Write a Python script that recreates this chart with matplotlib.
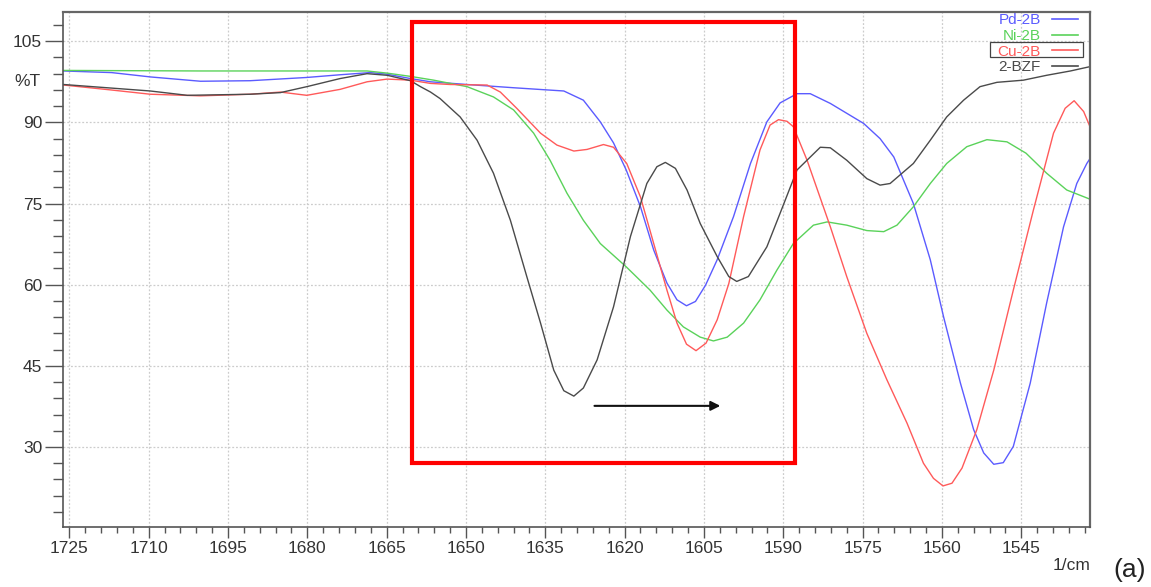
import matplotlib
matplotlib.use("Agg")
import matplotlib.pyplot as plt
from matplotlib.patches import Rectangle
from matplotlib.ticker import MultipleLocator

plt.rcParams['font.family'] = ['Liberation Sans', 'DejaVu Sans']

# ---------------- data ----------------
pd_wn = [1726.1, 1717.0, 1709.7, 1700.2, 1690.8, 1680.1, 1673.8, 1668.1, 1664.9, 1660.5,
         1656.7, 1649.8, 1641.0, 1634.7, 1631.5, 1627.8, 1624.6, 1622.1, 1619.7, 1617.0,
         1614.5, 1612.0, 1610.1, 1608.3, 1606.6, 1604.7, 1602.5, 1599.4, 1596.2, 1593.1,
         1590.6, 1587.4, 1584.9, 1581.1, 1574.8, 1571.7, 1569.1, 1565.4, 1562.2, 1559.7,
         1556.5, 1554.0, 1552.1, 1550.2, 1548.4, 1546.5, 1543.3, 1540.2, 1537.0, 1534.5,
         1532.6, 1532.0]
pd_t = [99.5, 99.2, 98.4, 97.6, 97.7, 98.3, 98.8, 99.2, 98.9, 98.1,
        97.5, 97.0, 96.4, 96.0, 95.8, 94.1, 90.1, 86.2, 81.2, 74.4,
        66.4, 60.3, 57.2, 56.1, 56.9, 59.9, 64.6, 72.6, 82.4, 90.1,
        93.6, 95.3, 95.3, 93.5, 89.8, 87.0, 83.6, 75.0, 64.6, 54.1,
        41.8, 33.2, 28.9, 26.8, 27.1, 30.1, 41.8, 56.6, 70.7, 78.7,
        82.4, 83.3]

ni_wn = [1726.1, 1700.0, 1680.0, 1668.7, 1664.9, 1660.5, 1656.1, 1649.8, 1644.8, 1641.0,
         1637.2, 1634.1, 1630.9, 1627.8, 1624.6, 1619.7, 1615.2, 1612.0, 1608.9, 1605.7,
         1603.2, 1600.6, 1597.5, 1594.4, 1591.2, 1588.1, 1584.3, 1581.7, 1578.0, 1574.2,
         1571.0, 1568.5, 1565.4, 1562.2, 1559.1, 1555.3, 1551.5, 1547.7, 1544.1, 1540.2,
         1536.4, 1532.0]
ni_t = [99.6, 99.5, 99.5, 99.5, 99.1, 98.5, 97.8, 96.6, 94.7, 92.3,
        88.0, 83.0, 76.9, 71.9, 67.6, 63.3, 59.0, 55.3, 52.2, 50.3,
        49.6, 50.3, 52.9, 57.2, 62.7, 67.6, 71.0, 71.6, 71.0, 70.0,
        69.8, 71.0, 74.4, 78.7, 82.4, 85.5, 86.8, 86.4, 84.3, 80.6,
        77.5, 75.8]

cu_wn = [1726.1, 1717.2, 1709.7, 1700.2, 1690.8, 1685.1, 1680.1, 1673.8, 1668.7, 1664.9,
         1660.5, 1656.7, 1653.0, 1646.0, 1643.5, 1640.4, 1635.9, 1632.8, 1629.6, 1627.1,
         1624.0, 1622.1, 1619.6, 1617.0, 1614.5, 1612.0, 1610.1, 1608.3, 1606.5, 1604.6,
         1602.5, 1600.3, 1597.5, 1594.4, 1592.5, 1590.9, 1589.3, 1588.1, 1585.5, 1581.1,
         1578.0, 1574.2, 1570.4, 1566.6, 1563.5, 1561.6, 1559.8, 1558.1, 1556.2, 1553.4,
         1550.2, 1546.5, 1542.7, 1538.9, 1536.7, 1535.0, 1533.2, 1532.0]
cu_t = [96.9, 96.0, 95.2, 94.9, 95.2, 95.6, 95.0, 96.1, 97.5, 98.0,
        97.8, 97.2, 97.0, 96.9, 95.6, 92.6, 88.0, 85.8, 84.7, 85.0,
        85.9, 85.4, 82.4, 76.2, 67.6, 59.0, 52.9, 49.0, 47.8, 49.2,
        53.5, 60.2, 72.6, 84.9, 89.5, 90.5, 90.2, 89.2, 83.0, 70.7,
        61.5, 51.0, 42.4, 34.4, 27.0, 24.2, 22.8, 23.3, 26.1, 33.2,
        44.2, 59.0, 73.8, 88.0, 92.6, 94.0, 92.0, 89.2]

bzf_wn = [1726.1, 1709.7, 1702.7, 1690.8, 1685.1, 1680.1, 1673.8, 1668.7, 1664.9, 1660.5,
          1658.6, 1656.7, 1654.9, 1651.1, 1647.9, 1644.8, 1641.6, 1638.5, 1635.9, 1633.4,
          1631.5, 1629.6, 1627.8, 1625.2, 1622.1, 1618.9, 1615.8, 1613.9, 1612.3, 1610.4,
          1608.2, 1605.7, 1602.5, 1600.3, 1598.8, 1596.6, 1593.1, 1590.6, 1587.4, 1583.0,
          1581.1, 1578.0, 1574.2, 1571.7, 1569.8, 1565.4, 1562.2, 1559.1, 1555.9, 1552.8,
          1549.6, 1544.6, 1540.2, 1535.7, 1532.0]
bzf_t = [97.0, 95.8, 95.0, 95.2, 95.5, 96.6, 98.1, 99.0, 98.7, 97.7,
         96.6, 95.6, 94.4, 91.0, 86.7, 80.6, 71.9, 61.5, 52.9, 44.2,
         40.4, 39.4, 40.9, 46.1, 55.9, 68.9, 78.7, 81.8, 82.6, 81.5,
         77.5, 71.3, 65.2, 61.5, 60.6, 61.5, 67.0, 73.2, 81.2, 85.4,
         85.3, 83.0, 79.6, 78.4, 78.7, 82.4, 86.7, 91.0, 94.1, 96.6,
         97.4, 97.8, 98.7, 99.5, 100.3]

labels = ['Pd-2B', 'Ni-2B', 'Cu-2B', '2-BZF']
colors = ['#5b5bff', '#5ad25a', '#ff5a5a', '#4a4a4a']

x_ticks = [1725, 1710, 1695, 1680, 1665, 1650, 1635, 1620, 1605, 1590, 1575, 1560, 1545]
y_ticks = [30, 45, 60, 75, 90, 105]

# highlight box and arrow (data coords)
box_x = [1660.15, 1587.7]
box_y = [27.1, 108.5]
arrow_x = [1625.7, 1601.9]
arrow_y = 37.6

# ---------------- figure ----------------
W, H = 1151, 587
fig = plt.figure(figsize=(W / 100, H / 100), dpi=100)
ax = fig.add_axes([63 / W, 1 - 526.5 / H, 1027 / W, 514.5 / H])

series = [(pd_wn, pd_t), (ni_wn, ni_t), (cu_wn, cu_t), (bzf_wn, bzf_t)]
for (wn, t), lab, col in zip(series, labels, colors):
    ax.plot(wn, t, color=col, lw=1.0, label=lab)

ax.set_xlim(1726.2, 1532.0)
ax.set_ylim(15.3, 110.4)
ax.set_xticks(x_ticks)
ax.set_yticks(y_ticks)
ax.xaxis.set_minor_locator(MultipleLocator(3))
ax.yaxis.set_minor_locator(MultipleLocator(3))

ax.grid(True, which='major', color='#cccccc', lw=0.9, ls=(0, (1.5, 1.5)))
ax.set_axisbelow(True)

tc = '#333333'
ax.tick_params(axis='x', which='major', direction='out', length=7.7, width=1.0,
               color='#555555', labelsize=12.5, labelcolor=tc, pad=3)
ax.tick_params(axis='x', which='minor', direction='out', length=4, width=1.0,
               color='#555555')
ax.tick_params(axis='y', which='major', direction='out', length=13, width=1.0,
               color='#555555', labelsize=12.5, labelcolor=tc, pad=2)
ax.tick_params(axis='y', which='minor', direction='out', length=7, width=1.0,
               color='#555555')
for s in ['left', 'bottom']:
    ax.spines[s].set_color('#555555')
    ax.spines[s].set_linewidth(1.2)
for s in ['top', 'right']:
    ax.spines[s].set_color('#666666')
    ax.spines[s].set_linewidth(1.6)

# red highlight rectangle
ax.add_patch(Rectangle((box_x[0], box_y[0]), box_x[1] - box_x[0], box_y[1] - box_y[0],
                       fill=False, edgecolor='#ff0000', lw=3.0, zorder=5))

# arrow
ax.annotate('', xy=(arrow_x[1], arrow_y), xytext=(arrow_x[0], arrow_y),
            arrowprops=dict(arrowstyle='-|>', color='#111111', lw=1.5,
                            mutation_scale=14, shrinkA=0, shrinkB=0), zorder=6)

# legend
leg = ax.legend(loc='upper right', bbox_to_anchor=(1078 / W, 1 - 13.5 / H),
                bbox_transform=fig.transFigure, frameon=False, markerfirst=False,
                fontsize=11, labelcolor='linecolor', handlelength=1.7,
                handletextpad=0.75, labelspacing=0.1, borderpad=0.0,
                borderaxespad=0.0)
for h in leg.get_lines():
    h.set_linewidth(1.2)

# box around Cu-2B entry
ax.add_patch(Rectangle(((990 - 63) / 1027, (526.5 - 56.7) / 514.5),
                       93 / 1027, 14.4 / 514.5, transform=ax.transAxes,
                       fill=False, edgecolor='#444444', lw=0.9, zorder=7,
                       clip_on=False))

# axis labels / annotations
fig.text(27 / W, 1 - 82 / H, '%T', fontsize=12.5, color=tc, ha='center', va='center')
fig.text(1090 / W, 1 - 566 / H, '1/cm', fontsize=12.5, color=tc, ha='right', va='center')
fig.text(1130 / W, 1 - 570 / H, '(a)', fontsize=19, color='#222222', ha='center', va='center')

fig.savefig('out.png', dpi=100)
